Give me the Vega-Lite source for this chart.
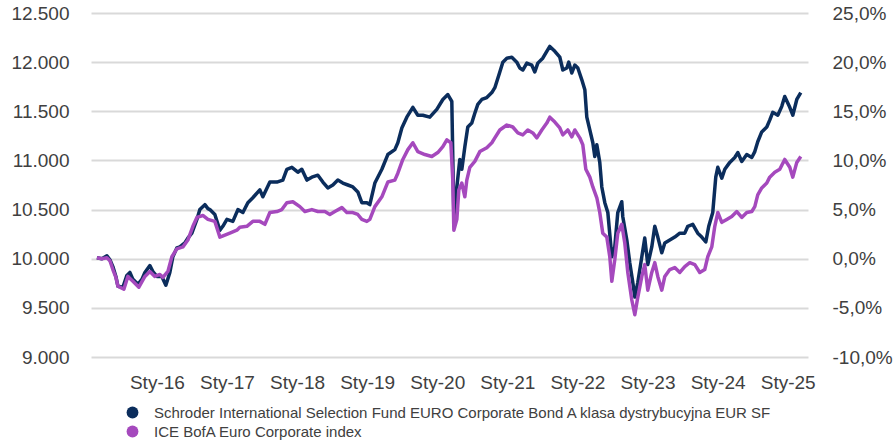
{
  "$schema": "https://vega.github.io/schema/vega-lite/v6.json",
  "width": 717,
  "height": 344,
  "autosize": {"type": "none"},
  "padding": {"left": 91, "top": 13, "right": 85, "bottom": 85},
  "config": {"view": {"stroke": null}, "font": "Liberation Sans"},
  "data": {"values": [
    {"series":"fund","year":2015.144,"value":10010},{"series":"fund","year":2015.215,"value":10000},{"series":"fund","year":2015.287,"value":10030},{"series":"fund","year":2015.330,"value":9990},{"series":"fund","year":2015.372,"value":9920},{"series":"fund","year":2015.415,"value":9820},{"series":"fund","year":2015.444,"value":9720},{"series":"fund","year":2015.515,"value":9710},{"series":"fund","year":2015.572,"value":9830},{"series":"fund","year":2015.615,"value":9860},{"series":"fund","year":2015.658,"value":9790},{"series":"fund","year":2015.729,"value":9740},{"series":"fund","year":2015.786,"value":9790},{"series":"fund","year":2015.829,"value":9860},{"series":"fund","year":2015.900,"value":9930},{"series":"fund","year":2015.943,"value":9870},{"series":"fund","year":2016.000,"value":9820},{"series":"fund","year":2016.071,"value":9820},{"series":"fund","year":2016.128,"value":9730},{"series":"fund","year":2016.185,"value":9860},{"series":"fund","year":2016.228,"value":10020},{"series":"fund","year":2016.285,"value":10110},{"series":"fund","year":2016.328,"value":10120},{"series":"fund","year":2016.399,"value":10160},{"series":"fund","year":2016.442,"value":10210},{"series":"fund","year":2016.499,"value":10260},{"series":"fund","year":2016.571,"value":10400},{"series":"fund","year":2016.613,"value":10500},{"series":"fund","year":2016.685,"value":10550},{"series":"fund","year":2016.728,"value":10510},{"series":"fund","year":2016.756,"value":10500},{"series":"fund","year":2016.827,"value":10450},{"series":"fund","year":2016.899,"value":10290},{"series":"fund","year":2016.941,"value":10330},{"series":"fund","year":2016.999,"value":10400},{"series":"fund","year":2017.084,"value":10380},{"series":"fund","year":2017.156,"value":10500},{"series":"fund","year":2017.227,"value":10470},{"series":"fund","year":2017.298,"value":10570},{"series":"fund","year":2017.369,"value":10620},{"series":"fund","year":2017.469,"value":10700},{"series":"fund","year":2017.512,"value":10630},{"series":"fund","year":2017.612,"value":10780},{"series":"fund","year":2017.712,"value":10780},{"series":"fund","year":2017.797,"value":10800},{"series":"fund","year":2017.854,"value":10910},{"series":"fund","year":2017.926,"value":10930},{"series":"fund","year":2018.011,"value":10880},{"series":"fund","year":2018.068,"value":10910},{"series":"fund","year":2018.140,"value":10800},{"series":"fund","year":2018.211,"value":10830},{"series":"fund","year":2018.297,"value":10850},{"series":"fund","year":2018.368,"value":10780},{"series":"fund","year":2018.439,"value":10720},{"series":"fund","year":2018.511,"value":10750},{"series":"fund","year":2018.582,"value":10800},{"series":"fund","year":2018.653,"value":10770},{"series":"fund","year":2018.725,"value":10750},{"series":"fund","year":2018.796,"value":10730},{"series":"fund","year":2018.867,"value":10680},{"series":"fund","year":2018.924,"value":10570},{"series":"fund","year":2018.996,"value":10570},{"series":"fund","year":2019.038,"value":10550},{"series":"fund","year":2019.110,"value":10770},{"series":"fund","year":2019.210,"value":10910},{"series":"fund","year":2019.295,"value":11060},{"series":"fund","year":2019.395,"value":11110},{"series":"fund","year":2019.438,"value":11180},{"series":"fund","year":2019.495,"value":11330},{"series":"fund","year":2019.566,"value":11440},{"series":"fund","year":2019.652,"value":11540},{"series":"fund","year":2019.723,"value":11460},{"series":"fund","year":2019.794,"value":11460},{"series":"fund","year":2019.894,"value":11440},{"series":"fund","year":2019.994,"value":11520},{"series":"fund","year":2020.080,"value":11620},{"series":"fund","year":2020.151,"value":11670},{"series":"fund","year":2020.208,"value":11600},{"series":"fund","year":2020.237,"value":10430},{"series":"fund","year":2020.280,"value":10730},{"series":"fund","year":2020.322,"value":11010},{"series":"fund","year":2020.351,"value":10910},{"series":"fund","year":2020.394,"value":11140},{"series":"fund","year":2020.436,"value":11340},{"series":"fund","year":2020.493,"value":11380},{"series":"fund","year":2020.536,"value":11480},{"series":"fund","year":2020.579,"value":11570},{"series":"fund","year":2020.636,"value":11620},{"series":"fund","year":2020.707,"value":11640},{"series":"fund","year":2020.779,"value":11690},{"series":"fund","year":2020.822,"value":11740},{"series":"fund","year":2020.893,"value":11900},{"series":"fund","year":2020.936,"value":12000},{"series":"fund","year":2020.993,"value":12040},{"series":"fund","year":2021.064,"value":12050},{"series":"fund","year":2021.135,"value":12000},{"series":"fund","year":2021.178,"value":11940},{"series":"fund","year":2021.221,"value":11920},{"series":"fund","year":2021.278,"value":11990},{"series":"fund","year":2021.349,"value":11970},{"series":"fund","year":2021.392,"value":11900},{"series":"fund","year":2021.435,"value":11990},{"series":"fund","year":2021.506,"value":12040},{"series":"fund","year":2021.563,"value":12110},{"series":"fund","year":2021.606,"value":12160},{"series":"fund","year":2021.678,"value":12110},{"series":"fund","year":2021.749,"value":12050},{"series":"fund","year":2021.792,"value":11920},{"series":"fund","year":2021.849,"value":11940},{"series":"fund","year":2021.877,"value":12000},{"series":"fund","year":2021.920,"value":11890},{"series":"fund","year":2021.963,"value":11970},{"series":"fund","year":2022.006,"value":11940},{"series":"fund","year":2022.063,"value":11820},{"series":"fund","year":2022.106,"value":11720},{"series":"fund","year":2022.134,"value":11440},{"series":"fund","year":2022.177,"value":11310},{"series":"fund","year":2022.220,"value":11180},{"series":"fund","year":2022.248,"value":11040},{"series":"fund","year":2022.277,"value":11160},{"series":"fund","year":2022.319,"value":10980},{"series":"fund","year":2022.348,"value":10730},{"series":"fund","year":2022.391,"value":10570},{"series":"fund","year":2022.434,"value":10470},{"series":"fund","year":2022.491,"value":10020},{"series":"fund","year":2022.533,"value":10120},{"series":"fund","year":2022.576,"value":10470},{"series":"fund","year":2022.633,"value":10580},{"series":"fund","year":2022.647,"value":10430},{"series":"fund","year":2022.705,"value":10190},{"series":"fund","year":2022.747,"value":9960},{"series":"fund","year":2022.790,"value":9760},{"series":"fund","year":2022.819,"value":9610},{"series":"fund","year":2022.862,"value":9760},{"series":"fund","year":2022.919,"value":10020},{"series":"fund","year":2022.961,"value":10210},{"series":"fund","year":2023.004,"value":9940},{"series":"fund","year":2023.061,"value":10120},{"series":"fund","year":2023.104,"value":10330},{"series":"fund","year":2023.147,"value":10220},{"series":"fund","year":2023.204,"value":10060},{"series":"fund","year":2023.247,"value":10160},{"series":"fund","year":2023.318,"value":10190},{"series":"fund","year":2023.389,"value":10220},{"series":"fund","year":2023.461,"value":10260},{"series":"fund","year":2023.532,"value":10260},{"series":"fund","year":2023.575,"value":10330},{"series":"fund","year":2023.646,"value":10350},{"series":"fund","year":2023.717,"value":10260},{"series":"fund","year":2023.774,"value":10220},{"series":"fund","year":2023.832,"value":10170},{"series":"fund","year":2023.874,"value":10330},{"series":"fund","year":2023.931,"value":10470},{"series":"fund","year":2023.974,"value":10830},{"series":"fund","year":2024.003,"value":10930},{"series":"fund","year":2024.060,"value":10820},{"series":"fund","year":2024.103,"value":10910},{"series":"fund","year":2024.174,"value":10980},{"series":"fund","year":2024.245,"value":11030},{"series":"fund","year":2024.288,"value":11080},{"series":"fund","year":2024.345,"value":10990},{"series":"fund","year":2024.416,"value":11060},{"series":"fund","year":2024.488,"value":11030},{"series":"fund","year":2024.531,"value":11090},{"series":"fund","year":2024.573,"value":11190},{"series":"fund","year":2024.630,"value":11290},{"series":"fund","year":2024.702,"value":11340},{"series":"fund","year":2024.744,"value":11410},{"series":"fund","year":2024.787,"value":11490},{"series":"fund","year":2024.859,"value":11460},{"series":"fund","year":2024.916,"value":11550},{"series":"fund","year":2024.958,"value":11650},{"series":"fund","year":2025.030,"value":11540},{"series":"fund","year":2025.073,"value":11460},{"series":"fund","year":2025.130,"value":11620},{"series":"fund","year":2025.187,"value":11690},
    {"series":"index","year":2015.144,"value":10010},{"series":"index","year":2015.215,"value":10000},{"series":"index","year":2015.287,"value":10010},{"series":"index","year":2015.330,"value":9980},{"series":"index","year":2015.372,"value":9890},{"series":"index","year":2015.415,"value":9810},{"series":"index","year":2015.444,"value":9720},{"series":"index","year":2015.529,"value":9690},{"series":"index","year":2015.586,"value":9820},{"series":"index","year":2015.658,"value":9770},{"series":"index","year":2015.743,"value":9710},{"series":"index","year":2015.829,"value":9820},{"series":"index","year":2015.900,"value":9870},{"series":"index","year":2015.971,"value":9820},{"series":"index","year":2016.043,"value":9840},{"series":"index","year":2016.086,"value":9810},{"series":"index","year":2016.157,"value":9870},{"series":"index","year":2016.214,"value":10020},{"series":"index","year":2016.285,"value":10100},{"series":"index","year":2016.371,"value":10120},{"series":"index","year":2016.442,"value":10190},{"series":"index","year":2016.514,"value":10330},{"series":"index","year":2016.571,"value":10420},{"series":"index","year":2016.656,"value":10440},{"series":"index","year":2016.728,"value":10400},{"series":"index","year":2016.827,"value":10380},{"series":"index","year":2016.899,"value":10220},{"series":"index","year":2016.970,"value":10240},{"series":"index","year":2017.041,"value":10260},{"series":"index","year":2017.141,"value":10290},{"series":"index","year":2017.184,"value":10320},{"series":"index","year":2017.284,"value":10330},{"series":"index","year":2017.369,"value":10380},{"series":"index","year":2017.469,"value":10380},{"series":"index","year":2017.541,"value":10350},{"series":"index","year":2017.612,"value":10470},{"series":"index","year":2017.712,"value":10480},{"series":"index","year":2017.783,"value":10500},{"series":"index","year":2017.854,"value":10570},{"series":"index","year":2017.940,"value":10580},{"series":"index","year":2018.040,"value":10530},{"series":"index","year":2018.111,"value":10480},{"series":"index","year":2018.211,"value":10500},{"series":"index","year":2018.297,"value":10480},{"series":"index","year":2018.397,"value":10480},{"series":"index","year":2018.468,"value":10450},{"series":"index","year":2018.539,"value":10480},{"series":"index","year":2018.639,"value":10520},{"series":"index","year":2018.710,"value":10470},{"series":"index","year":2018.796,"value":10470},{"series":"index","year":2018.867,"value":10450},{"series":"index","year":2018.924,"value":10400},{"series":"index","year":2018.996,"value":10380},{"series":"index","year":2019.038,"value":10400},{"series":"index","year":2019.110,"value":10530},{"series":"index","year":2019.210,"value":10630},{"series":"index","year":2019.295,"value":10780},{"series":"index","year":2019.395,"value":10800},{"series":"index","year":2019.438,"value":10870},{"series":"index","year":2019.509,"value":11010},{"series":"index","year":2019.581,"value":11110},{"series":"index","year":2019.652,"value":11180},{"series":"index","year":2019.723,"value":11090},{"series":"index","year":2019.823,"value":11060},{"series":"index","year":2019.923,"value":11040},{"series":"index","year":2020.008,"value":11080},{"series":"index","year":2020.080,"value":11140},{"series":"index","year":2020.137,"value":11210},{"series":"index","year":2020.194,"value":11180},{"series":"index","year":2020.222,"value":10800},{"series":"index","year":2020.237,"value":10290},{"series":"index","year":2020.280,"value":10400},{"series":"index","year":2020.308,"value":10700},{"series":"index","year":2020.351,"value":10770},{"series":"index","year":2020.394,"value":10630},{"series":"index","year":2020.422,"value":10800},{"series":"index","year":2020.465,"value":10930},{"series":"index","year":2020.536,"value":10990},{"series":"index","year":2020.608,"value":11090},{"series":"index","year":2020.707,"value":11130},{"series":"index","year":2020.779,"value":11180},{"series":"index","year":2020.822,"value":11230},{"series":"index","year":2020.893,"value":11310},{"series":"index","year":2020.993,"value":11360},{"series":"index","year":2021.078,"value":11340},{"series":"index","year":2021.150,"value":11280},{"series":"index","year":2021.221,"value":11260},{"series":"index","year":2021.292,"value":11310},{"series":"index","year":2021.364,"value":11280},{"series":"index","year":2021.421,"value":11230},{"series":"index","year":2021.492,"value":11310},{"series":"index","year":2021.563,"value":11380},{"series":"index","year":2021.606,"value":11440},{"series":"index","year":2021.678,"value":11390},{"series":"index","year":2021.749,"value":11330},{"series":"index","year":2021.792,"value":11260},{"series":"index","year":2021.863,"value":11310},{"series":"index","year":2021.920,"value":11240},{"series":"index","year":2021.963,"value":11310},{"series":"index","year":2022.034,"value":11230},{"series":"index","year":2022.077,"value":11160},{"series":"index","year":2022.120,"value":10910},{"series":"index","year":2022.177,"value":10830},{"series":"index","year":2022.220,"value":10730},{"series":"index","year":2022.277,"value":10620},{"series":"index","year":2022.319,"value":10470},{"series":"index","year":2022.362,"value":10260},{"series":"index","year":2022.419,"value":10220},{"series":"index","year":2022.462,"value":10020},{"series":"index","year":2022.491,"value":9770},{"series":"index","year":2022.533,"value":9990},{"series":"index","year":2022.576,"value":10260},{"series":"index","year":2022.633,"value":10350},{"series":"index","year":2022.676,"value":10160},{"series":"index","year":2022.719,"value":9860},{"series":"index","year":2022.776,"value":9580},{"series":"index","year":2022.819,"value":9430},{"series":"index","year":2022.862,"value":9610},{"series":"index","year":2022.919,"value":9820},{"series":"index","year":2022.961,"value":9940},{"series":"index","year":2023.004,"value":9680},{"series":"index","year":2023.061,"value":9860},{"series":"index","year":2023.104,"value":9960},{"series":"index","year":2023.147,"value":9820},{"series":"index","year":2023.204,"value":9680},{"series":"index","year":2023.247,"value":9820},{"series":"index","year":2023.318,"value":9890},{"series":"index","year":2023.389,"value":9910},{"series":"index","year":2023.461,"value":9860},{"series":"index","year":2023.532,"value":9920},{"series":"index","year":2023.603,"value":9960},{"series":"index","year":2023.675,"value":9940},{"series":"index","year":2023.746,"value":9860},{"series":"index","year":2023.817,"value":9890},{"series":"index","year":2023.860,"value":10020},{"series":"index","year":2023.917,"value":10120},{"series":"index","year":2023.960,"value":10330},{"series":"index","year":2024.003,"value":10470},{"series":"index","year":2024.060,"value":10370},{"series":"index","year":2024.131,"value":10400},{"series":"index","year":2024.202,"value":10430},{"series":"index","year":2024.274,"value":10480},{"series":"index","year":2024.345,"value":10420},{"series":"index","year":2024.416,"value":10470},{"series":"index","year":2024.488,"value":10480},{"series":"index","year":2024.531,"value":10530},{"series":"index","year":2024.573,"value":10650},{"series":"index","year":2024.630,"value":10720},{"series":"index","year":2024.702,"value":10770},{"series":"index","year":2024.744,"value":10830},{"series":"index","year":2024.816,"value":10880},{"series":"index","year":2024.887,"value":10910},{"series":"index","year":2024.958,"value":11010},{"series":"index","year":2025.030,"value":10930},{"series":"index","year":2025.073,"value":10830},{"series":"index","year":2025.130,"value":10980},{"series":"index","year":2025.187,"value":11040}
  ]},
  "layer": [
    {
      "mark": {"type": "line", "strokeWidth": 3.5, "strokeJoin": "round"},
      "encoding": {
        "x": {"field": "year", "type": "quantitative",
          "scale": {"domain": [2015.06, 2025.29], "nice": false, "zero": false},
          "axis": {"values": [2016,2017,2018,2019,2020,2021,2022,2023,2024,2025],
            "labelExpr": "'Sty-' + substring(toString(datum.value), 2, 4)",
            "grid": false, "domain": false, "ticks": false, "labelFontSize": 19,
            "labelColor": "#404040", "labelPadding": 16, "title": null, "labelFlush": false}},
        "y": {"field": "value", "type": "quantitative",
          "scale": {"domain": [9000, 12500], "nice": false, "zero": false},
          "axis": {"values": [9000,9500,10000,10500,11000,11500,12000,12500],
            "labelExpr": "replace(format(datum.value, ','), ',', '.')",
            "grid": true, "gridColor": "#d9d9d9", "gridWidth": 2, "domain": false, "ticks": false,
            "labelFontSize": 19, "labelColor": "#404040", "labelPadding": 22, "title": null}},
        "color": {"field": "series", "type": "nominal",
          "scale": {"domain": ["fund", "index"], "range": ["#0b2d5c", "#a549bd"]},
          "legend": {"orient": "none", "legendX": 34, "legendY": 392, "direction": "vertical",
            "title": null, "symbolType": "circle", "symbolSize": 140, "labelFontSize": 15,
            "labelColor": "#404040", "labelLimit": 800, "rowPadding": 3, "padding": 0, "labelOffset": 14,
            "labelExpr": "datum.value == 'fund' ? 'Schroder International Selection Fund EURO Corporate Bond A klasa dystrybucyjna EUR SF' : 'ICE BofA Euro Corporate index'",
            "encode": {"symbols": {"update": {"fill": {"scale": "color", "field": "value"}, "strokeWidth": {"value": 0}}}}}}
      }
    },
    {
      "mark": {"type": "line", "opacity": 0},
      "encoding": {
        "x": {"field": "year", "type": "quantitative"},
        "y": {"field": "value", "type": "quantitative",
          "axis": {"orient": "right", "values": [9000,9500,10000,10500,11000,11500,12000,12500],
            "labelExpr": "replace(replace(format((datum.value - 10000) / 10000, '.1%'), '.', ','), '\u2212', '-')",
            "grid": false, "domain": false, "ticks": false, "labelFontSize": 19,
            "labelColor": "#404040", "labelPadding": 24, "title": null}},
        "detail": {"field": "series"}
      }
    }
  ],
  "resolve": {"axis": {"y": "independent"}}
}
